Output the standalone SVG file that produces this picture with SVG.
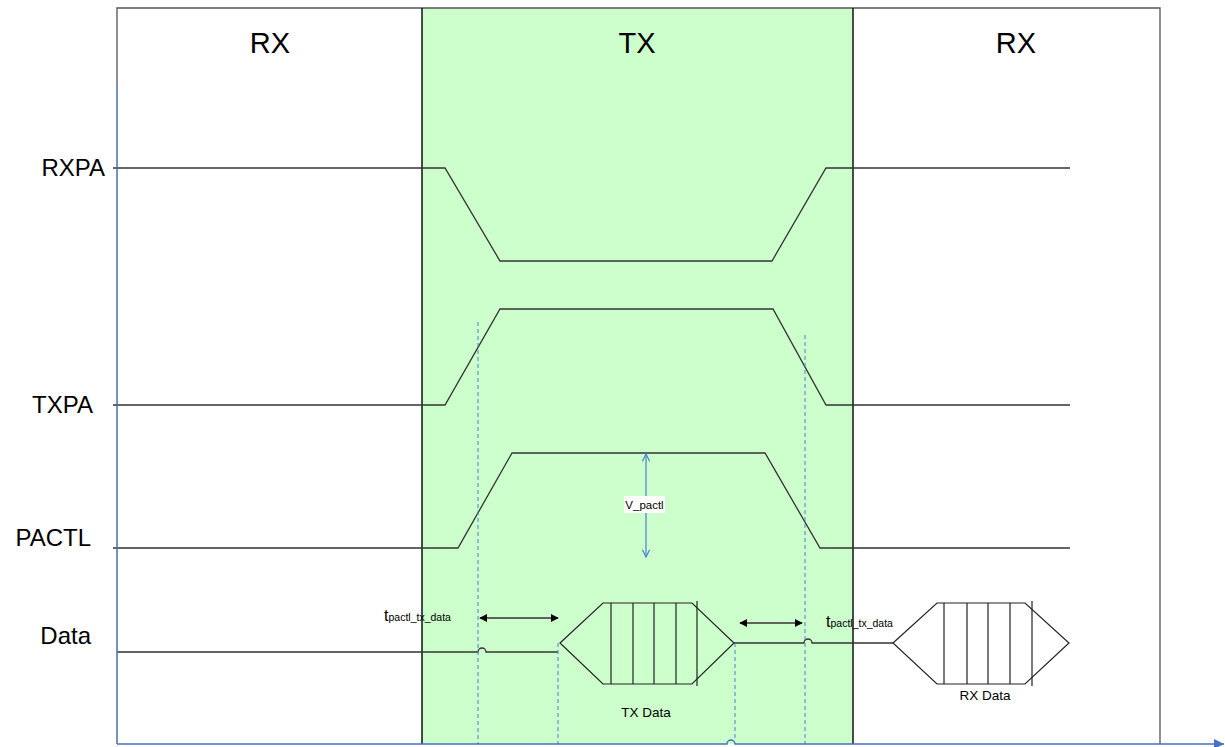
<svg xmlns="http://www.w3.org/2000/svg" width="1225" height="747" viewBox="0 0 1225 747">
<style>
.sig{fill:none;stroke:#333;stroke-width:1.3}
.frame{fill:none;stroke:#555;stroke-width:1.3}
.div{stroke:#111;stroke-width:1.5}
.dash{stroke:#4a7fd4;stroke-width:1;stroke-dasharray:4,3;fill:none}
.lbl{font-family:"Liberation Sans",Arial,sans-serif;fill:#000}
.pkt{fill:none;stroke:#222;stroke-width:1.2}
.dim{stroke:#333;stroke-width:1.5;fill:none}
</style>
<defs>
<marker id="ah" viewBox="0 0 10 10" refX="9" refY="5" markerWidth="8" markerHeight="8" orient="auto-start-reverse" markerUnits="userSpaceOnUse">
<path d="M0,0 L10,5 L0,10 z" fill="#000"/>
</marker>
<marker id="va" viewBox="0 0 10 10" refX="9" refY="5" markerWidth="9" markerHeight="9" orient="auto-start-reverse" markerUnits="userSpaceOnUse">
<path d="M1,1 L9,5 L1,9" fill="none" stroke="#4a7fd4" stroke-width="1.3"/>
</marker>
<marker id="axa" viewBox="0 0 10 10" refX="10" refY="5" markerWidth="12" markerHeight="10" orient="auto" markerUnits="userSpaceOnUse">
<path d="M0,0 L10,5 L0,10 z" fill="#4472c4"/>
</marker>
</defs>
<rect width="1225" height="747" fill="#fff"/>
<g id="tx-region">
<rect x="422" y="8" width="431" height="736" fill="#ccffcc"/>
</g>
<g id="frame">
<path class="frame" d="M117,83 L117,8 L1160,8 L1160,744"/>
<line class="div" x1="422" y1="8" x2="422" y2="744"/>
<line class="div" x1="853" y1="8" x2="853" y2="744"/>
</g>
<g id="phase-labels">
<text class="lbl" x="270" y="53" font-size="29" text-anchor="middle">RX</text>
<text class="lbl" x="637" y="53" font-size="29" text-anchor="middle">TX</text>
<text class="lbl" x="1016" y="53" font-size="29" text-anchor="middle">RX</text>
</g>
<g id="signal-labels">
<text class="lbl" x="105" y="176" font-size="24" text-anchor="end">RXPA</text>
<text class="lbl" x="93" y="413" font-size="24" text-anchor="end">TXPA</text>
<text class="lbl" x="91" y="546" font-size="24" text-anchor="end">PACTL</text>
<text class="lbl" x="91" y="644" font-size="24" text-anchor="end">Data</text>
</g>
<g id="connectors">
<g id="rxpa"><path class="sig" d="M113,168 L445,168 L500,261 L772,261 L826,168 L1070,168"/></g>
<g id="txpa"><path class="sig" d="M113,405 L445,405 L500,309 L773,309 L826,405 L1070,405"/></g>
<g id="pactl"><path class="sig" d="M113,548 L458,548 L512,453 L765,453 L820,548 L1070,548"/></g>
<g id="data-line">
<path class="sig" d="M117,652 L478,652 A4,4 0 0 1 486,652 L558,652"/>
<path class="sig" d="M734,643 L804,643 A4,4 0 0 1 812,643 L893,643"/>
</g>
<g id="dashed-guides">
<line class="dash" x1="478" y1="322" x2="478" y2="744"/>
<line class="dash" x1="558" y1="643" x2="558" y2="744"/>
<line class="dash" x1="735" y1="643" x2="735" y2="740"/>
<line class="dash" x1="805" y1="335" x2="805" y2="744"/>
</g>
<g id="timing-arrows">
<line class="dim" x1="480" y1="618" x2="558" y2="618" marker-start="url(#ah)" marker-end="url(#ah)"/>
<line class="dim" x1="740" y1="623" x2="802" y2="623" marker-start="url(#ah)" marker-end="url(#ah)"/>
</g>
<g id="v-arrow">
<line x1="646" y1="454" x2="646" y2="557" stroke="#4a7fd4" stroke-width="1.2" marker-start="url(#va)" marker-end="url(#va)"/>
</g>
<g id="axes">
<line x1="117" y1="83" x2="117" y2="744" stroke="#4a6fa5" stroke-width="1.5"/>
<path d="M117,744 L727,744 A4,4 0 0 1 735,744 L1224,744" fill="none" stroke="#4472c4" stroke-width="1.5" marker-end="url(#axa)"/>
</g>
</g>
<g id="tx-packet">
<path class="pkt" d="M560,643 L603,603 L692,603 L734,643 L692,684 L603,684 Z"/>
<path class="pkt" d="M611,603 V684 M633,603 V684 M654,603 V684 M676,603 V684 M697,601 V686"/>
<text class="lbl" x="646" y="717" font-size="13.5" text-anchor="middle">TX Data</text>
</g>
<g id="rx-packet">
<path class="pkt" d="M893,643 L937,603 L1025,603 L1069,643 L1025,684 L937,684 Z"/>
<path class="pkt" d="M944,603 V684 M967,603 V684 M988,603 V684 M1010,603 V684 M1032,601 V686"/>
<text class="lbl" x="985" y="700" font-size="13.5" text-anchor="middle">RX Data</text>
</g>
<g id="v-label">
<rect x="624" y="496" width="41" height="17" fill="#fff"/>
<text class="lbl" x="644.5" y="509" font-size="11.5" text-anchor="middle">V_pactl</text>
</g>
<g id="t-labels">
<text class="lbl" x="384" y="621" font-size="16">t<tspan font-size="10.5">pactl_tx_data</tspan></text>
<text class="lbl" x="826" y="627" font-size="16">t<tspan font-size="10.5">pactl_tx_data</tspan></text>
</g>
</svg>
